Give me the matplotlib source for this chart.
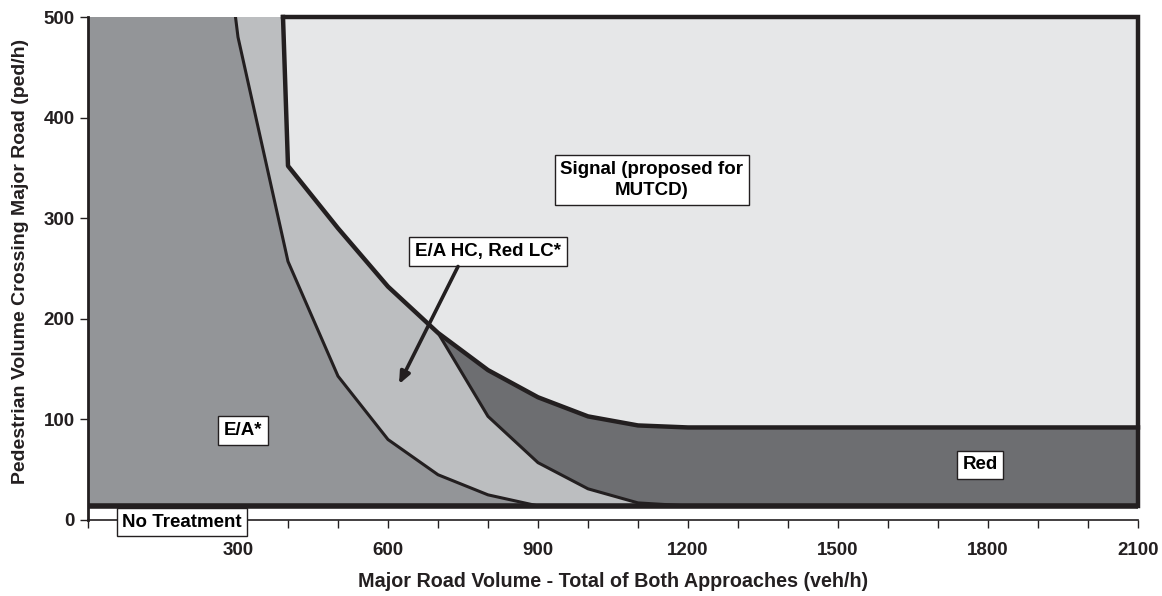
import matplotlib.pyplot as plt

plt.rcParams['font.family'] = ['Liberation Sans', 'DejaVu Sans']
plt.rcParams['font.weight'] = 'bold'
plt.rcParams['axes.labelweight'] = 'bold'

# boundary between E/A and E/A HC, Red LC
curve_a_x = [295, 300, 400, 500, 600, 700, 800, 900]
curve_a_y = [500, 480, 257, 143, 80, 45, 25, 14]

# boundary between E/A HC, Red LC and Red
red_x = [700, 800, 900, 1000, 1100, 1200, 2100]
red_y = [186, 103, 57, 31, 17, 14, 14]

# signal boundary
signal_x = [390, 400, 500, 600, 700, 800, 900, 1000, 1100, 1200, 2100]
signal_y = [500, 352, 290, 232, 186, 149, 122, 103, 94, 92, 92]

base_y = 14
x_max = 2100
y_max = 500

x_ticks = list(range(0, 2101, 100))
x_labels = [str(v) if v % 300 == 0 and v > 0 else '' for v in x_ticks]
y_ticks = [0, 100, 200, 300, 400, 500]

c_ea = '#939598'
c_hc = '#bcbec0'
c_red = '#6d6e71'
c_sig = '#e6e7e8'
c_line = '#231f20'

fig = plt.figure(figsize=(11.62, 5.96), dpi=100)
ax = fig.add_axes([88 / 1162, 1 - 520 / 596, 1050 / 1162, 503 / 596])

# signal region
sx = signal_x + [x_max]
sy = signal_y + [y_max]
ax.fill(sx, sy, color=c_sig, lw=0)

# E/A HC, Red LC region
i700 = signal_x.index(700)
hx = [curve_a_x[0]] + signal_x[:i700 + 1] + red_x[1:6] + curve_a_x[::-1]
hy = [y_max] + signal_y[:i700 + 1] + red_y[1:6] + curve_a_y[::-1]
ax.fill(hx, hy, color=c_hc, lw=0)

# Red region
rx = red_x + [x_max] + signal_x[:i700 - 1:-1]
ry = red_y + [signal_y[-1]] + signal_y[:i700 - 1:-1]
ax.fill(rx, ry, color=c_red, lw=0)

# E/A region
ex = [0, 0] + curve_a_x
ey = [base_y, y_max] + curve_a_y
ax.fill(ex, ey, color=c_ea, lw=0)

# boundaries
ax.plot(curve_a_x, curve_a_y, color=c_line, lw=2.2, solid_joinstyle='miter')
ax.plot(red_x, red_y, color=c_line, lw=2.2)
ax.plot(signal_x, signal_y, color=c_line, lw=3.2, clip_on=False)
ax.plot([signal_x[0], x_max, x_max], [y_max, y_max, base_y], color=c_line,
        lw=3.2, clip_on=False, solid_joinstyle='miter')
ax.plot([0, x_max], [base_y, base_y], color=c_line, lw=4, clip_on=False,
        solid_capstyle='butt')

box = dict(boxstyle='square,pad=0.3', fc='white', ec=c_line, lw=1)
fs = 13.5
ax.text(1128, 338, 'Signal (proposed for\nMUTCD)', ha='center', va='center',
        fontsize=fs, linespacing=1.3,
        bbox=dict(boxstyle='square,pad=0.3', fc='white', ec=c_line, lw=1))
ax.text(800, 267, 'E/A HC, Red LC*', ha='center', va='center', fontsize=fs, bbox=box)
ax.text(310, 89, 'E/A*', ha='center', va='center', fontsize=fs, bbox=box)
ax.text(1784, 55, 'Red', ha='center', va='center', fontsize=fs, bbox=box)
ax.text(188, -2, 'No Treatment', ha='center', va='center', fontsize=fs, bbox=box,
        zorder=5, clip_on=False)
ax.annotate('', xy=(622, 135), xytext=(740, 252),
            arrowprops=dict(arrowstyle='-|>,head_length=0.7,head_width=0.3',
                            color=c_line, lw=2.6, shrinkA=0, shrinkB=0))

ax.set_xlim(0, x_max)
ax.set_ylim(0, y_max)
ax.set_xticks(x_ticks)
ax.set_xticklabels(x_labels)
ax.set_yticks(y_ticks)
ax.tick_params(axis='both', direction='out', length=6, width=1, labelsize=fs,
               color=c_line, labelcolor=c_line)
ax.tick_params(axis='x', pad=10)
for s in ['top', 'right']:
    ax.spines[s].set_visible(False)
ax.spines['left'].set_linewidth(2)
ax.spines['bottom'].set_linewidth(1.2)
ax.spines['left'].set_color(c_line)
ax.spines['bottom'].set_color(c_line)

ax.set_xlabel('Major Road Volume - Total of Both Approaches (veh/h)', fontsize=14.2,
              labelpad=9, color=c_line)
ax.set_ylabel('Pedestrian Volume Crossing Major Road (ped/h)', fontsize=14,
              labelpad=11, color=c_line)
ax.yaxis.set_label_coords(-0.056, 0.515)

fig.savefig('out.png', dpi=100)
